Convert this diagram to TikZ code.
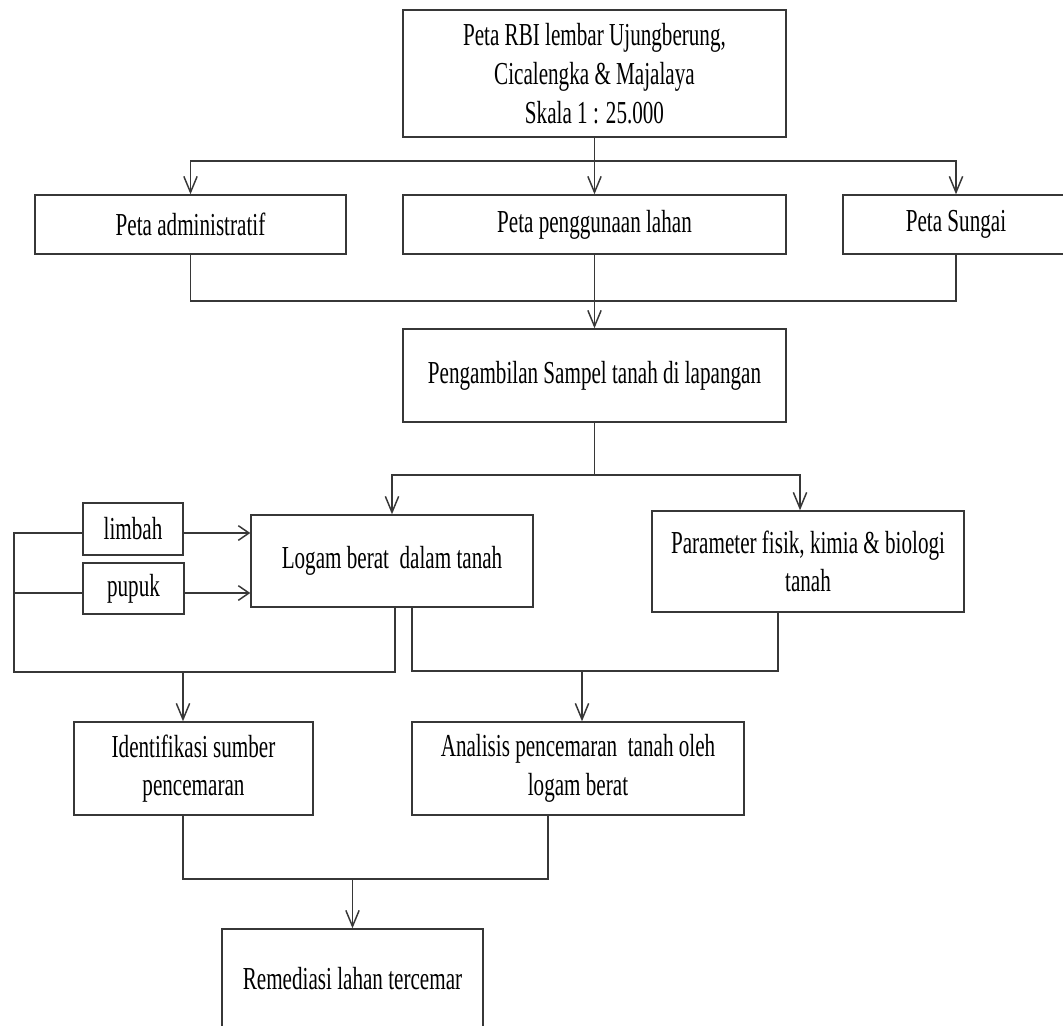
\documentclass[tikz,border=0pt]{standalone}
\usepackage{fontspec}
\setmainfont[FakeStretch=0.66]{Liberation Serif}
\usetikzlibrary{arrows.meta,calc}
\begin{document}
\begin{tikzpicture}[x=0.75pt,y=-0.75pt,
  line width=1.1pt, draw={rgb,255:red,55;green,55;blue,55},
  box/.style 2 args={draw, rectangle, inner sep=0pt, align=center,
    minimum width=#1*0.75pt, minimum height=#2*0.75pt,
    font=\fontsize{24}{29}\selectfont, text=black},
  varr/.style={-{Straight Barb[length=12pt,width=10pt]}},
  harr/.style={-{Straight Barb[length=8pt,width=11pt]}}]
\useasboundingbox (0,0) rectangle (1063,1025);
\clip (0,0) rectangle (1063,1025);
\fill[white] (0,0) rectangle (1063,1025);

% nodes
\node[box={383}{127}] (top) at (594.5,73.5) {Peta RBI lembar Ujungberung,\\ Cicalengka \& Majalaya\\ Skala 1 : 25.000};
\node[box={311}{59}] (adm) at (190.5,224.5) {Peta administratif};
\node[box={383}{59}] (pp) at (594.5,224.5) {Peta penggunaan lahan};
\node[box={226}{59}] (sung) at (956,224.5) {Peta Sungai};
\node[box={383}{93}] (peng) at (594.5,375.5) {Pengambilan Sampel tanah di lapangan};
\node[box={282}{92}] (logam) at (392,561) {Logam berat~ dalam tanah};
\node[box={312}{101}] (param) at (808,561.5) {Parameter fisik, kimia \& biologi\\ tanah};
\node[box={100}{52}] (limbah) at (133,529) {limbah};
\node[box={101}{51}] (pupuk) at (133.5,588.5) {pupuk};
\node[box={239}{93}] (ident) at (193.5,768.5) {Identifikasi sumber\\ pencemaran};
\node[box={332}{93}] (anal) at (578,768.5) {Analisis pencemaran~ tanah oleh\\ logam berat};
\node[box={261}{100}] (remed) at (352.5,979) {Remediasi lahan tercemar};

% junction coordinates
\coordinate (j1) at (594.5,161);
\coordinate (j2) at (594.5,301);
\coordinate (j3) at (594.5,475);
\coordinate (lt) at (14,533);
\coordinate (lm) at (14,593);
\coordinate (lb) at (14,672);
\coordinate (j4) at (183,672);
\coordinate (j5) at (582,671);
\coordinate (j6) at (352.5,879);
\coordinate (le) at ($(limbah.east)+(0,4)$);
\coordinate (lw) at ($(limbah.west)+(0,4)$);
\coordinate (pe) at ($(pupuk.east)+(0,4.5)$);
\coordinate (pw) at ($(pupuk.west)+(0,4.5)$);

% top to second row
\draw (top.south) -- (j1);
\draw[varr] (j1) -| (adm.north);
\draw[varr] (j1) -- (pp.north);
\draw[varr] (j1) -| (sung.north);

% second row to sampling
\draw (adm.south) |- (j2) -| (sung.south);
\draw[varr] (pp.south) -- (peng.north);

% sampling to logam / parameter
\draw (peng.south) -- (j3);
\draw[varr] (j3) -| (logam.north);
\draw[varr] (j3) -| ($(param.north)+(-8,0)$);

% limbah / pupuk into logam
\draw[harr] (le) -- (le -| logam.west);
\draw[harr] (pe) -- (pe -| logam.west);

% left loop
\draw (lw) -- (lt) -- (lb) -| ($(logam.south)+(3,0)$);
\draw (pw) -- (lm);
\draw[varr] (j4) -- ($(ident.north)+(-10.5,0)$);

% right loop
\draw ($(logam.south)+(20,0)$) |- (j5) -| ($(param.south)+(-30,0)$);
\draw[varr] (j5) -- ($(anal.north)+(4,0)$);

% bottom
\draw ($(ident.south)+(-10.5,0)$) |- (j6) -| ($(anal.south)+(-30,0)$);
\draw[varr] (j6) -- (remed.north);
\end{tikzpicture}
\end{document}
